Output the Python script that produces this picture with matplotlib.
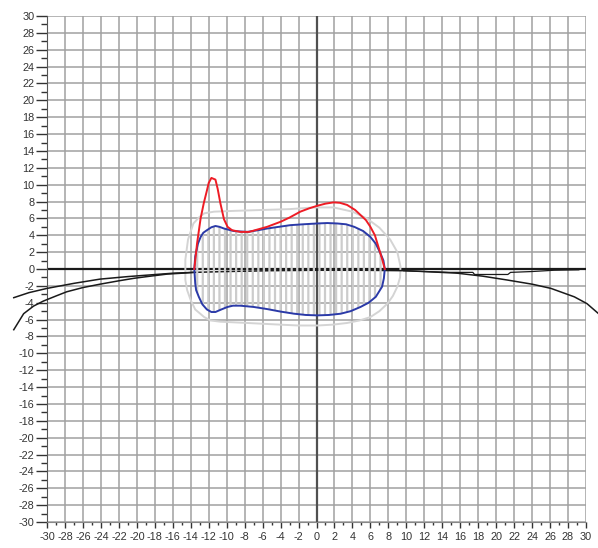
import numpy as np
import matplotlib.pyplot as plt
from matplotlib.ticker import MultipleLocator

plt.rcParams['font.family'] = ['Liberation Sans', 'DejaVu Sans']
plt.rcParams['axes.unicode_minus'] = False
plt.rcParams['hatch.linewidth'] = 1.6

# red outline (upper profile)
red_x = [-13.6, -13.3, -12.9, -12.55, -12.2, -12.0, -11.7, -11.25, -11.0, -10.7, -10.3,
         -9.9, -9.4, -8.5, -7.5, -6.5, -5.5, -4.0, -3.0, -1.8, -0.8, 0.1, 1.0, 1.9,
         2.6, 3.4, 4.3, 4.9, 5.5, 6.0, 6.5, 6.9, 7.3, 7.6]
red_y = [0.0, 3.0, 6.0, 7.8, 9.3, 10.2, 10.8, 10.6, 9.5, 7.8, 5.9,
         5.0, 4.6, 4.4, 4.4, 4.7, 5.0, 5.6, 6.1, 6.8, 7.2, 7.5, 7.75, 7.9,
         7.85, 7.6, 7.0, 6.4, 5.8, 5.0, 4.0, 2.6, 1.2, 0.0]

# blue closed contour
blue_x = [-13.6, -13.5, -13.2, -12.9, -12.6, -12.2, -11.7, -11.25, -10.8, -10.3, -9.2, -7.7,
          -6.5, -5.5, -4.2, -2.9, -1.5, 0.1, 1.2, 2.3, 3.3, 4.2, 5.2, 6.0, 6.6, 7.1, 7.45,
          7.6, 7.5, 7.3, 6.6, 5.8, 4.9, 3.8, 2.7, 1.4, 0.1, -1.2, -2.5, -4.0, -5.5, -7.0,
          -8.5, -9.3, -9.9, -10.6, -11.25, -11.7, -12.2, -12.7, -13.1, -13.4, -13.5, -13.6]
blue_y = [0.0, 1.5, 3.0, 3.8, 4.3, 4.6, 4.95, 5.1, 5.0, 4.8, 4.5, 4.4,
          4.6, 4.8, 5.0, 5.2, 5.3, 5.4, 5.45, 5.4, 5.3, 5.0, 4.5, 3.8, 3.0, 1.9, 1.0,
          0.0, -1.1, -2.1, -3.3, -4.0, -4.5, -5.0, -5.3, -5.45, -5.5, -5.45, -5.3, -5.05, -4.75, -4.5,
          -4.35, -4.35, -4.5, -4.8, -5.1, -5.1, -4.8, -4.2, -3.3, -2.5, -1.7, 0.0]

# light grey outer contour
grey_x = [-14.6, -14.3, -13.7, -13.1, -12.5, -11.4, -9.0, -6.0, -3.0, -1.0, 0.0, 1.9, 4.0,
          5.6, 7.0, 8.2, 9.0, 9.35, 9.3, 9.0, 8.5, 7.9, 7.0, 6.0, 4.8, 3.4, 1.8, 0.1, -2.0,
          -4.0, -7.7, -10.7, -11.8, -12.5, -13.5, -14.0, -14.4, -14.6, -14.6]
grey_y = [1.1, 3.5, 5.4, 6.1, 6.6, 6.8, 6.9, 7.0, 7.1, 7.25, 7.3, 7.3, 6.8,
          6.0, 4.9, 3.5, 2.0, 0.3, -1.0, -2.1, -3.2, -4.1, -5.0, -5.7, -6.1, -6.4, -6.6, -6.7, -6.7,
          -6.6, -6.4, -6.25, -6.1, -5.7, -4.8, -3.7, -2.5, -1.3, 1.1]

# black curves
blk1_x = [-33.7, -32.0, -30.0, -27.0, -24.1, -21.0, -18.5, -16.0, -13.7, -10.0, -5.0, 0.0,
          5.0, 9.7, 12.0, 15.7, 18.5, 21.2, 24.0, 26.1, 28.7, 30.1, 31.4]
blk1_y = [-3.4, -2.8, -2.3, -1.7, -1.2, -0.9, -0.7, -0.5, -0.4, -0.3, -0.2, -0.15,
          -0.15, -0.2, -0.3, -0.5, -0.85, -1.3, -1.8, -2.3, -3.3, -4.1, -5.3]
blk2_x = [-33.7, -32.6, -31.5, -30.4, -29.0, -27.8, -26.0, -24.1, -22.0, -20.3, -18.5,
          -16.6, -15.0, -13.7]
blk2_y = [-7.2, -5.3, -4.4, -3.8, -3.2, -2.7, -2.2, -1.8, -1.4, -1.1, -0.85,
          -0.6, -0.5, -0.4]
blk3_x = [9.7, 12.0, 14.9, 17.4, 17.6, 21.3, 21.6, 24.0, 26.4, 29.2]
blk3_y = [-0.2, -0.3, -0.4, -0.4, -0.65, -0.65, -0.4, -0.3, -0.15, -0.1]

ticks = np.arange(-30, 31, 2)

fig = plt.figure(figsize=(5.98, 5.48), dpi=100)
ax = fig.add_axes([47 / 598, 26 / 548, 539 / 598, 506 / 548])
ax.set_xlim(-30, 30)
ax.set_ylim(-30, 30)

ax.set_xticks(ticks)
ax.set_yticks(ticks)
ax.xaxis.set_minor_locator(MultipleLocator(1))
ax.yaxis.set_minor_locator(MultipleLocator(1))
ax.grid(True, which='major', color='#a0a0a0', lw=1.1, zorder=0)
ax.set_axisbelow(True)

for s in ['top', 'right']:
    ax.spines[s].set_visible(False)
ax.spines['left'].set_color('#555555')
ax.spines['bottom'].set_color('#888888')
ax.tick_params(axis='y', which='major', length=8, width=1, colors='#333333', labelsize=7.8, pad=1)
ax.tick_params(axis='y', which='minor', length=4, width=1, colors='#333333')
ax.tick_params(axis='x', which='major', length=4, width=1, colors='#333333', labelsize=7.8, pad=3)
ax.tick_params(axis='x', which='minor', length=2.5, width=1, colors='#333333')

ax.axvline(0, color='#505050', lw=1.6, zorder=1)
ax.axhline(0, color='#1a1a1a', lw=1.6, zorder=1)

ax.fill(grey_x, grey_y, facecolor='none', edgecolor='#d4d4d4', lw=1.4, zorder=2)
ax.plot(blk1_x, blk1_y, color='#1a1a1a', lw=1.1, zorder=3, clip_on=False)
ax.plot(blk2_x, blk2_y, color='#1a1a1a', lw=1.1, zorder=3, clip_on=False)
ax.plot(blk3_x, blk3_y, color='#1a1a1a', lw=0.9, zorder=3)
ax.fill(blue_x, blue_y, facecolor='none', edgecolor='#cccccc', hatch='|||', lw=0, zorder=4)
ax.plot(blue_x, blue_y, color='#2b3aa8', lw=1.4, zorder=5)
ax.plot(red_x, red_y, color='#ee1c25', lw=1.4, zorder=6)

fig.savefig('out.png', dpi=100)
